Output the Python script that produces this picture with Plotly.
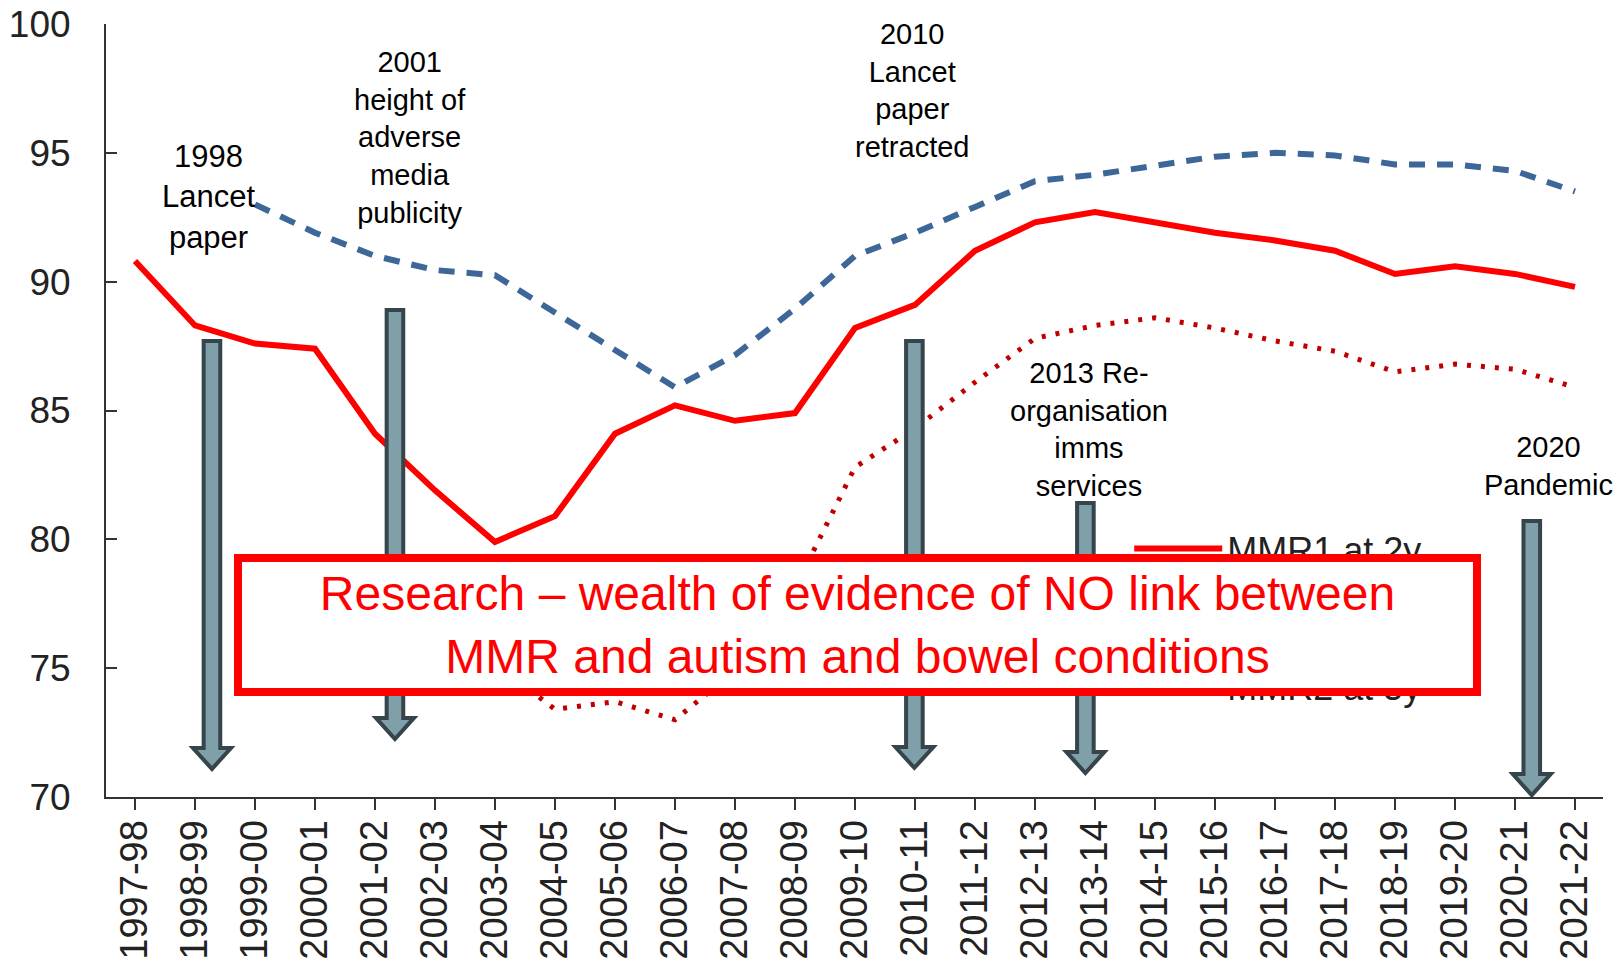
import plotly.graph_objects as go

years = ["1997-98", "1998-99", "1999-00", "2000-01", "2001-02", "2002-03", "2003-04",
         "2004-05", "2005-06", "2006-07", "2007-08", "2008-09", "2009-10", "2010-11",
         "2011-12", "2012-13", "2013-14", "2014-15", "2015-16", "2016-17", "2017-18",
         "2018-19", "2019-20", "2020-21", "2021-22"]

mmr1_2y = [90.8, 88.3, 87.6, 87.4, 84.1, 81.9, 79.9, 80.9, 84.1, 85.2, 84.6, 84.9, 88.2,
           89.1, 91.2, 92.3, 92.7, 92.3, 91.9, 91.6, 91.2, 90.3, 90.6, 90.3, 89.8]

mmr1_5y = [None, None, 93.0, 91.9, 91.0, 90.45, 90.25, 88.8, 87.3, 85.9, 87.15, 88.95,
           91.0, 91.9, 92.9, 93.9, 94.15, 94.5, 94.85, 95.0, 94.9, 94.55, 94.55, 94.3, 93.5]

mmr2_5y = [None, None, None, None, None, None, 75.2, 73.4, 73.7, 73.0, 74.9, 78.1, 82.8,
           84.3, 86.1, 87.8, 88.3, 88.6, 88.2, 87.7, 87.3, 86.5, 86.8, 86.6, 85.9]

series_names = ["MMR1 at 2y", "MMR1 at 5y", "MMR2 at 5y"]

# Event annotations: (text, x position as category index, y value, font size)
events = [
    ("1998<br>Lancet<br>paper", 1.23, 93.3, 31),
    ("2001<br>height of<br>adverse<br>media<br>publicity", 4.58, 95.6, 29),
    ("2010<br>Lancet<br>paper<br>retracted", 12.95, 97.4, 29),
    ("2013 Re-<br>organisation<br>imms<br>services", 15.9, 84.25, 29),
    ("2020<br>Pandemic", 23.56, 82.85, 29),
]

# Event arrows: (x category index, top value, head-base value, tip value)
arrows = [
    (1.283, 87.70, 71.90, 71.09),
    (4.333, 88.90, 73.07, 72.25),
    (12.99, 87.70, 71.94, 71.13),
    (15.84, 81.41, 71.75, 70.93),
    (23.28, 80.71, 70.89, 70.07),
]

box_text = "Research – wealth of evidence of NO link between<br>MMR and autism and bowel conditions"

FONT = "Liberation Sans, Arial, sans-serif"

fig = go.Figure()
fig.add_trace(go.Scatter(x=years, y=mmr1_2y, mode="lines", name=series_names[0],
                         legendgroup="a",
                         line=dict(color="#ff0000", width=6)))
fig.add_trace(go.Scatter(x=years, y=mmr1_5y, mode="lines", name=series_names[1],
                         legendgroup="b",
                         line=dict(color="#3d6699", width=6, dash="16px,12px")))
fig.add_trace(go.Scatter(x=years, y=mmr2_5y, mode="lines", name=series_names[2],
                         legendgroup="c",
                         line=dict(color="#c00000", width=5, dash="4px,10px")))

shapes = []
for xa, top, base, tip in arrows:
    hw, hh = 8.3, 19
    path = (f"M{-hw},{top} L{hw},{top} L{hw},{base} L{hh},{base} L0,{tip} "
            f"L{-hh},{base} L{-hw},{base} Z")
    shapes.append(dict(type="path", xref="x", yref="y", xsizemode="pixel",
                       xanchor=xa, path=path, fillcolor="#7f9fa9",
                       line=dict(color="#36454c", width=4), layer="above"))

annotations = []
for text, xi, yv, fs in events:
    annotations.append(dict(text=text, x=xi, y=yv, xref="x", yref="y",
                            showarrow=False, xanchor="center", yanchor="middle",
                            font=dict(family=FONT, size=fs, color="#000000")))
annotations.append(dict(text=box_text, x=0.502, y=0.222, xref="paper", yref="paper",
                        showarrow=False, xanchor="center", yanchor="middle",
                        width=1231, height=126, bgcolor="#ffffff",
                        bordercolor="#ff0000", borderwidth=8, borderpad=0,
                        font=dict(family=FONT, size=48, color="#ff0000")))

fig.update_layout(
    width=1622, height=962,
    margin=dict(l=106, r=19, t=24, b=165, autoexpand=False),
    paper_bgcolor="white", plot_bgcolor="white",
    font=dict(family=FONT, color="#222222"),
    showlegend=True,
    legend=dict(x=0.6835, y=0.36, xanchor="left", yanchor="top",
                bgcolor="rgba(0,0,0,0)", font=dict(size=36, family=FONT, color="#222222"),
                traceorder="grouped", tracegroupgap=19, itemwidth=88),
    shapes=shapes,
    annotations=annotations,
    xaxis=dict(type="category", range=[-0.483, 24.467], showline=True,
               linecolor="#333333", linewidth=2, ticks="outside", ticklen=11,
               tickwidth=2, tickcolor="#333333", tickangle=-90, showgrid=False,
               zeroline=False, tickfont=dict(size=38, family=FONT, color="#222222"),
               ticklabelstandoff=-5, automargin=False),
    yaxis=dict(range=[70, 100], tickvals=[70, 75, 80, 85, 90, 95, 100], showline=True,
               linecolor="#333333", linewidth=2, ticks="inside", ticklen=11,
               tickwidth=2, tickcolor="#333333", showgrid=False, zeroline=False,
               tickfont=dict(size=37, family=FONT, color="#222222"),
               ticklabelstandoff=26, automargin=False),
)

fig.write_html("out.html", config={"displayModeBar": False},
               post_script="document.body.style.margin='0';document.body.style.overflow='hidden';")
